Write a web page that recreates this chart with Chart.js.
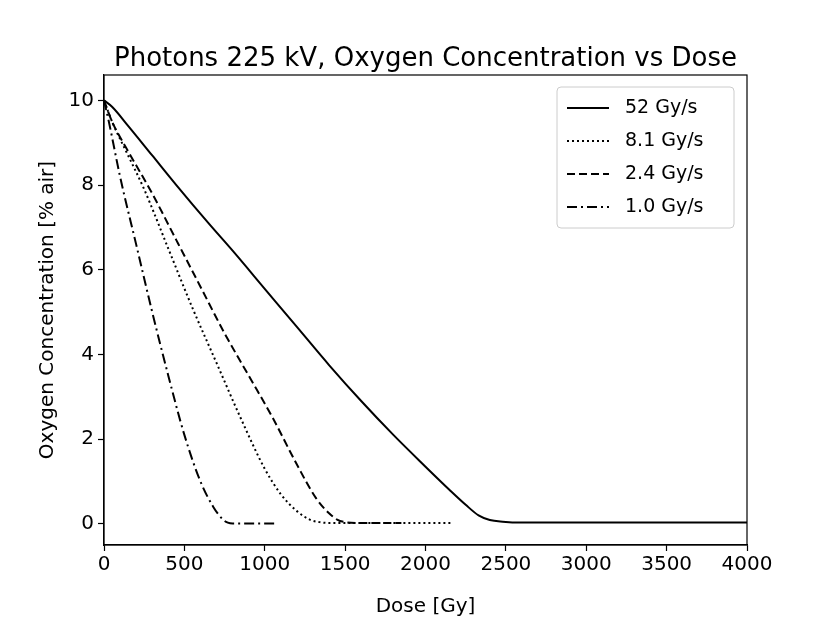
<!DOCTYPE html>
<html><head><script src="https://cdn.jsdelivr.net/npm/chart.js@4"></script>
<style>body{margin:0;background:#fff}#w{width:830px;height:623px}</style></head>
<body><div id="w"><canvas id="c"></canvas></div>
<script>
const labels = ["52 Gy/s","8.1 Gy/s","2.4 Gy/s","1.0 Gy/s"];
const dose52 = [0,50,150,300,450,650,800,1000,1200,1400,1600,1800,2000,2150,2250,2330,2400,2480,2600,3000,3500,4000];
const o52    = [10,9.85,9.4,8.7,8.0,7.1,6.45,5.55,4.65,3.75,2.9,2.1,1.35,0.8,0.45,0.2,0.09,0.05,0.03,0.03,0.03,0.03];
const dose81 = [0,50,150,250,400,550,700,850,1000,1100,1200,1280,1340,1400,1500,1700,2000,2170];
const o81    = [10,9.5,8.7,7.9,6.5,5.1,3.8,2.5,1.3,0.7,0.3,0.1,0.04,0.02,0.02,0.02,0.02,0.02];
const dose24 = [0,50,150,300,450,600,750,900,1050,1200,1320,1400,1450,1500,1600,1850];
const o24    = [10,9.5,8.8,7.8,6.7,5.6,4.5,3.5,2.5,1.4,0.6,0.25,0.1,0.04,0.02,0.02];
const dose10 = [0,30,100,200,300,400,500,600,680,740,770,800,900,1070];
const o10    = [10,9.5,8.2,6.6,5.0,3.5,2.1,1.0,0.4,0.1,0.03,0.01,0.01,0.01];
const xTicks = [0,500,1000,1500,2000,2500,3000,3500,4000];
const yTicks = [0,2,4,6,8,10];
const dashes = [[],[2,3],[8,4],[10,4,2,4]];
const mk=(xs,ys)=>xs.map((x,i)=>({x,y:ys[i]}));
const sets=[mk(dose52,o52),mk(dose81,o81),mk(dose24,o24),mk(dose10,o10)];
const F='"DejaVu Sans"';
const deco={id:'deco',afterDraw(ch){const c=ch.ctx,a=ch.chartArea;c.save();
c.fillStyle='#000';c.font='26px '+F;c.textAlign='center';c.textBaseline='alphabetic';
c.fillText('Photons 225 kV, Oxygen Concentration vs Dose',(a.left+a.right)/2,66);
const lx=557,ly=87,lw=177,lh=141;c.strokeStyle='#ccc';c.lineWidth=1;c.fillStyle='rgba(255,255,255,0.9)';
c.beginPath();c.roundRect(lx,ly,lw,lh,4);c.fill();c.stroke();
c.font='19px '+F;c.textAlign='left';c.textBaseline='middle';
labels.forEach((l,i)=>{const y=ly+21+i*33;c.strokeStyle='#000';c.lineWidth=2;c.setLineDash(dashes[i]);
c.beginPath();c.moveTo(lx+10,y);c.lineTo(lx+52,y);c.stroke();c.setLineDash([]);c.fillStyle='#000';c.fillText(l,lx+68,y);});
c.restore();}};
const gridOpt={display:true,drawOnChartArea:false,drawTicks:true,tickLength:6,tickColor:'#000',tickWidth:1.2};
new Chart(document.getElementById('c'),{type:'scatter',
data:{datasets:sets.map((d,i)=>({label:labels[i],data:d,showLine:true,borderColor:'#000',borderWidth:2,borderDash:dashes[i],pointRadius:0,cubicInterpolationMode:'monotone'}))},
options:{responsive:true,maintainAspectRatio:false,animation:false,devicePixelRatio:1,
layout:{padding:{top:75,right:83,left:0,bottom:0}},
plugins:{legend:{display:false},tooltip:{enabled:false}},
scales:{
x:{min:0,max:4000,afterFit(s){s.height=78;},afterBuildTicks(s){s.ticks=xTicks.map(v=>({value:v}));},
grid:gridOpt,border:{color:'#000',width:1.2},
ticks:{color:'#000',font:{family:F,size:20},padding:2,maxRotation:0,callback:v=>String(v)},
title:{display:true,text:'Dose [Gy]',color:'#000',font:{family:F,size:20},padding:{top:0}}},
y:{min:-0.5,max:10.6,afterFit(s){s.width=104;},afterBuildTicks(s){s.ticks=yTicks.map(v=>({value:v}));},
grid:gridOpt,border:{color:'#000',width:1.2},
ticks:{color:'#000',font:{family:F,size:20},padding:4,callback:v=>String(v)},
title:{display:true,text:'Oxygen Concentration [% air]',color:'#000',font:{family:F,size:20},padding:{top:36,bottom:0}}}}},
plugins:[deco,{id:'box',afterDraw(ch){const c=ch.ctx,a=ch.chartArea;c.save();c.strokeStyle='#000';c.lineWidth=1.2;c.strokeRect(a.left,a.top,a.right-a.left,a.bottom-a.top);c.restore();}}]});
</script></body></html>
